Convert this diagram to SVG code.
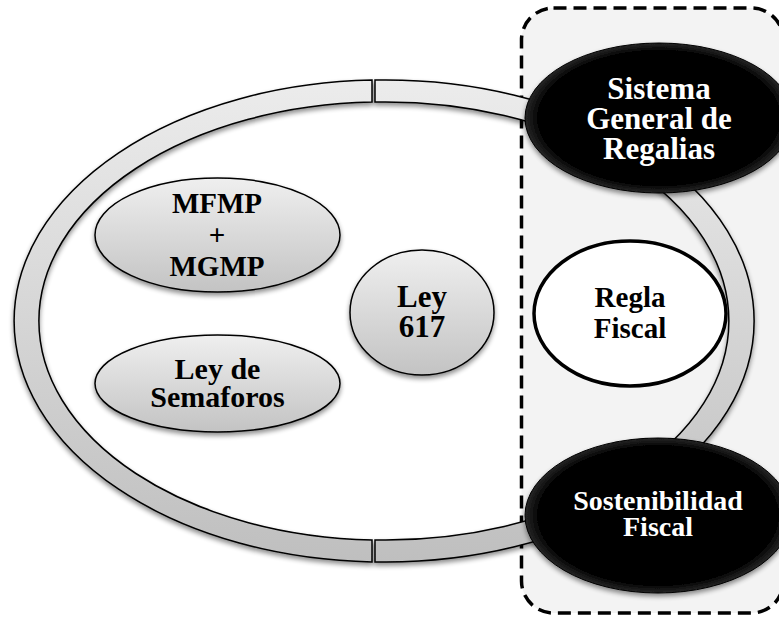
<svg xmlns="http://www.w3.org/2000/svg" width="779" height="619" viewBox="0 0 779 619">
  <defs>
    <linearGradient id="ringGrad" gradientUnits="userSpaceOnUse" x1="0" y1="80" x2="0" y2="562">
      <stop offset="0" stop-color="#ececec"/>
      <stop offset="1" stop-color="#bfbfbf"/>
    </linearGradient>
    <linearGradient id="grayNode" x1="0" y1="0" x2="0" y2="1">
      <stop offset="0" stop-color="#efefef"/>
      <stop offset="1" stop-color="#c3c3c3"/>
    </linearGradient>
    <radialGradient id="blackNode" cx="0.5" cy="0.5" r="0.5">
      <stop offset="0" stop-color="#000"/>
      <stop offset="0.9" stop-color="#030303"/>
      <stop offset="1" stop-color="#262626"/>
    </radialGradient>
    <filter id="shadow" x="-10%" y="-10%" width="120%" height="130%">
      <feGaussianBlur in="SourceAlpha" stdDeviation="2.5"/>
      <feOffset dx="0" dy="3" result="b"/>
      <feComponentTransfer><feFuncA type="linear" slope="0.45"/></feComponentTransfer>
      <feMerge><feMergeNode/><feMergeNode in="SourceGraphic"/></feMerge>
    </filter>
  </defs>
  <style>
    .ring { fill: url(#ringGrad); stroke: #000; stroke-width: 1.5; }
    .gray { fill: url(#grayNode); stroke: #000; stroke-width: 1.5; }
    .black { fill: url(#blackNode); stroke: #000; stroke-width: 1; }
    .white { fill: #fff; stroke: #000; stroke-width: 3.5; }
    .lbl { font-family: "Liberation Serif", "Times New Roman", serif; font-weight: bold; text-anchor: middle; fill: #000; }
    .lblw { font-family: "Liberation Serif", "Times New Roman", serif; font-weight: bold; text-anchor: middle; fill: #fff; }
  </style>

  <rect id="frame" x="521.5" y="8" width="262" height="605" rx="32" ry="32" fill="#f3f3f3" stroke="#000" stroke-width="3.5" stroke-dasharray="13 7"/>

  <g id="connectors" filter="url(#shadow)">
    <path class="ring" d="M372,80.1 A368.5,241 0 0 0 372,561.9 L372,539.9 A343.5,219 0 0 1 372,102.1 Z"/>
    <path class="ring" d="M375,80.1 A368.5,241 0 1 1 375,561.9 L375,539.9 A343.5,219 0 1 0 375,102.1 Z"/>
  </g>

  <g id="node-mfmp">
    <ellipse class="gray" cx="217.5" cy="235" rx="122.5" ry="57" filter="url(#shadow)"/>
    <text class="lbl" font-size="29" x="217" y="213">MFMP</text>
    <text class="lbl" font-size="29" x="217" y="244.5">+</text>
    <text class="lbl" font-size="29" x="217" y="276">MGMP</text>
  </g>

  <g id="node-semaforos">
    <ellipse class="gray" cx="217.5" cy="383.5" rx="122.5" ry="48.5" filter="url(#shadow)"/>
    <text class="lbl" font-size="30" x="217.5" y="379">Ley de</text>
    <text class="lbl" font-size="30" x="217.5" y="407">Semaforos</text>
  </g>

  <g id="node-ley617">
    <ellipse class="gray" cx="422" cy="312.5" rx="72" ry="62.5" filter="url(#shadow)"/>
    <text class="lbl" font-size="31" x="422" y="307">Ley</text>
    <text class="lbl" font-size="31" x="422" y="337">617</text>
  </g>

  <g id="node-regla">
    <ellipse class="white" cx="630" cy="313.5" rx="96" ry="72.5"/>
    <text class="lbl" font-size="29" x="630" y="307">Regla</text>
    <text class="lbl" font-size="29" x="630" y="338">Fiscal</text>
  </g>

  <g id="node-sgr">
    <ellipse class="black" cx="659" cy="118" rx="134" ry="75" filter="url(#shadow)"/>
    <text class="lblw" font-size="31" x="659" y="99">Sistema</text>
    <text class="lblw" font-size="31" x="659" y="129">General de</text>
    <text class="lblw" font-size="31" x="659" y="159">Regalias</text>
  </g>

  <g id="node-sostenibilidad">
    <ellipse class="black" cx="658" cy="515.5" rx="133" ry="77.5" filter="url(#shadow)"/>
    <text class="lblw" font-size="28" x="658" y="510">Sostenibilidad</text>
    <text class="lblw" font-size="28" x="658" y="536">Fiscal</text>
  </g>
</svg>
